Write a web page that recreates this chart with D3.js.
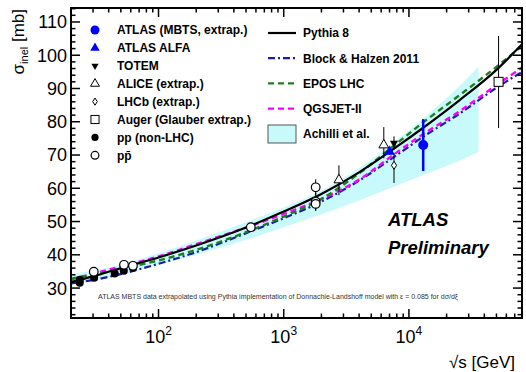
<!DOCTYPE html>
<html>
<head>
<meta charset="utf-8">
<script src="https://cdn.jsdelivr.net/npm/d3@7"></script>
<style>
  body { margin: 0; background: #fff; }
  svg { font-family: "Liberation Sans", Arial, sans-serif; }
</style>
</head>
<body>
<div id="chart"></div>
<script>
// Model curves, sigma_inel [mb] vs sqrt(s) [GeV]
const modelEnergy = [20, 30, 50, 100, 200, 500, 1000, 2000, 4000, 8000, 13000, 25000, 50000, 80000];
const pythia8     = [31.8, 33.5, 36.0, 39.2, 42.8, 48.2, 53.0, 58.3, 64.8, 72.5, 78.2, 86.3, 95.6, 103.3];
const blockHalzen = [31.4, 32.4, 34.2, 37.3, 40.8, 46.5, 51.0, 56.0, 62.3, 70.0, 75.5, 82.3, 90.2, 95.0];
const eposLHC     = [32.8, 34.0, 35.8, 38.3, 41.5, 46.8, 51.5, 56.8, 64.5, 73.5, 79.8, 87.8, 96.5, 102.8];
const qgsjet2     = [32.6, 34.3, 36.5, 39.5, 43.2, 48.2, 52.3, 56.8, 62.6, 70.8, 76.3, 83.0, 91.0, 96.3];

// Achilli et al. band
const achilliEnergy = [20, 50, 100, 200, 500, 1000, 2000, 4000, 8000, 13000, 25000, 36000];
const achilliHigh   = [34.2, 37.0, 40.5, 44.3, 49.8, 54.2, 59.3, 66.0, 74.5, 81.0, 90.5, 96.6];
const achilliLow    = [31.0, 34.0, 37.0, 40.0, 44.5, 48.3, 52.2, 56.3, 60.8, 64.0, 68.2, 71.0];

// Measurements
const ppEnergy = [23.5, 23.5, 30.6, 44.7, 52.8, 62.5];
const ppSigma  = [32.5, 31.6, 33.1, 34.4, 35.2, 36.1];
const ppErr    = [0.5, 0.8, 0.5, 0.5, 0.5, 0.5];

const ppbarEnergy = [30.4, 53, 62.5, 546, 1800, 1800, 1800];
const ppbarSigma  = [34.9, 37.0, 36.7, 48.3, 60.3, 56.0, 55.3];
const ppbarErr    = [0.6, 0.6, 0.6, 1.0, 2.4, 2.8, 2.0];

const aliceEnergy = [2760, 6300];
const aliceSigma  = [62.5, 73.0];
const aliceErrUp  = [4.4, 5.4];
const aliceErrDn  = [4.6, 4.0];

const lhcbEnergy = [7600];
const lhcbSigma  = [66.9];
const lhcbErrUp  = [3.7];
const lhcbErrDn  = [5.3];

const totemEnergy = [7600];
const totemSigma  = [73.6];
const totemErr    = [2.0];

const alfaEnergy = [7000];
const alfaSigma  = [71.0];
const alfaErr    = [0.9];

const mbtsEnergy = [13000];
const mbtsSigma  = [73.0];
const mbtsErr    = [7.8];

const augerEnergy = [52000];
const augerSigma  = [92.0];
const augerErrUp  = [13.8];
const augerErrDn  = [13.9];

const yMajorTicks = [30, 40, 50, 60, 70, 80, 90, 100, 110];
const xMajorTicks = [100, 1000, 10000];
const xTickExp = ['2', '3', '4'];

const markerLegend = [
  {label: 'ATLAS (MBTS, extrap.)', type: 'mbts'},
  {label: 'ATLAS ALFA', type: 'alfa'},
  {label: 'TOTEM', type: 'totem'},
  {label: 'ALICE (extrap.)', type: 'alice'},
  {label: 'LHCb (extrap.)', type: 'lhcb'},
  {label: 'Auger (Glauber extrap.)', type: 'auger'},
  {label: 'pp (non-LHC)', type: 'pp'},
  {label: 'pp\u0304', type: 'ppbar'}
];

const width = 526, height = 372;
const margin = {top: 8, right: 4, bottom: 54, left: 71};
const x0 = margin.left, x1 = width - margin.right;
const y0 = height - margin.bottom, y1 = margin.top;

const x = d3.scaleLog().domain([20, 80000]).range([x0, x1]);
const y = d3.scaleLinear().domain([21, 114.2]).range([y0, y1]);

const svg = d3.select('#chart').append('svg')
  .attr('width', width)
  .attr('height', height);

svg.append('clipPath').attr('id', 'plot-clip')
  .append('rect')
  .attr('x', x0).attr('y', y1)
  .attr('width', x1 - x0).attr('height', y0 - y1);

const plot = svg.append('g').attr('clip-path', 'url(#plot-clip)');

// Achilli band
const bandData = achilliEnergy.map((e, i) => ({e, lo: achilliLow[i], hi: achilliHigh[i]}));
plot.append('path')
  .datum(bandData)
  .attr('fill', '#c8fafc')
  .attr('d', d3.area()
    .x(d => x(d.e))
    .y0(d => y(d.lo))
    .y1(d => y(d.hi))
    .curve(d3.curveMonotoneX));

// Model curves
const line = d3.line()
  .x(d => x(d.e))
  .y(d => y(d.v))
  .curve(d3.curveMonotoneX);

const models = [
  {name: 'Pythia 8', values: pythia8, color: '#000', dash: null, w: 2.2},
  {name: 'Block & Halzen 2011', values: blockHalzen, color: '#1c1ca8', dash: '7,3,2,3', w: 2.2},
  {name: 'EPOS LHC', values: eposLHC, color: '#1e7d1e', dash: '6,4', w: 2.4},
  {name: 'QGSJET-II', values: qgsjet2, color: '#ff00ff', dash: '6,4', w: 2.4}
];

// draw order: dashed ones first, Pythia on top
[models[1], models[3], models[2], models[0]].forEach(m => {
  plot.append('path')
    .datum(modelEnergy.map((e, i) => ({e, v: m.values[i]})))
    .attr('fill', 'none')
    .attr('stroke', m.color)
    .attr('stroke-width', m.w)
    .attr('stroke-dasharray', m.dash)
    .attr('d', line);
});

// Markers
function drawMarker(g, type, cx, cy, scale) {
  const s = scale || 1;
  switch (type) {
    case 'mbts':
      g.append('circle').attr('cx', cx).attr('cy', cy).attr('r', 5 * s).attr('fill', '#0000ff');
      break;
    case 'alfa':
      g.append('path').attr('transform', `translate(${cx},${cy})`)
        .attr('d', d3.symbol(d3.symbolTriangle, 48 * s * s)()).attr('fill', '#0000ff');
      break;
    case 'totem':
      g.append('path').attr('transform', `translate(${cx},${cy}) rotate(180)`)
        .attr('d', d3.symbol(d3.symbolTriangle, 28 * s * s)()).attr('fill', '#000');
      break;
    case 'alice':
      g.append('path').attr('transform', `translate(${cx},${cy})`)
        .attr('d', d3.symbol(d3.symbolTriangle, 42 * s * s)())
        .attr('fill', '#fff').attr('stroke', '#000').attr('stroke-width', 1);
      break;
    case 'lhcb':
      g.append('path').attr('transform', `translate(${cx},${cy})`)
        .attr('d', `M0,${-4 * s}L${2.6 * s},0L0,${4 * s}L${-2.6 * s},0Z`)
        .attr('fill', '#fff').attr('stroke', '#000').attr('stroke-width', 1);
      break;
    case 'auger':
      g.append('rect').attr('x', cx - 4.5 * s).attr('y', cy - 4.5 * s)
        .attr('width', 9 * s).attr('height', 9 * s)
        .attr('fill', '#fff').attr('stroke', '#000').attr('stroke-width', 1);
      break;
    case 'pp':
      g.append('circle').attr('cx', cx).attr('cy', cy).attr('r', 4 * s).attr('fill', '#000');
      break;
    case 'ppbar':
      g.append('circle').attr('cx', cx).attr('cy', cy).attr('r', 4.3 * s)
        .attr('fill', '#fff').attr('stroke', '#000').attr('stroke-width', 1.2);
      break;
  }
}

function drawSeries(type, energies, sigmas, errUp, errDn, color, errWidth) {
  const g = svg.append('g');
  energies.forEach((e, i) => {
    const cx = x(e);
    g.append('line')
      .attr('x1', cx).attr('x2', cx)
      .attr('y1', y(sigmas[i] + errUp[i]))
      .attr('y2', y(sigmas[i] - errDn[i]))
      .attr('stroke', color)
      .attr('stroke-width', errWidth);
  });
  energies.forEach((e, i) => drawMarker(g, type, x(e), y(sigmas[i])));
}

drawSeries('pp', ppEnergy, ppSigma, ppErr, ppErr, '#000', 1);
drawSeries('ppbar', ppbarEnergy, ppbarSigma, ppbarErr, ppbarErr, '#000', 1);
drawSeries('alice', aliceEnergy, aliceSigma, aliceErrUp, aliceErrDn, '#000', 1);
drawSeries('lhcb', lhcbEnergy, lhcbSigma, lhcbErrUp, lhcbErrDn, '#000', 1);
drawSeries('totem', totemEnergy, totemSigma, totemErr, totemErr, '#000', 1);
drawSeries('alfa', alfaEnergy, alfaSigma, alfaErr, alfaErr, '#0000ff', 1.5);
drawSeries('mbts', mbtsEnergy, mbtsSigma, mbtsErr, mbtsErr, '#0000ff', 2.5);
drawSeries('auger', augerEnergy, augerSigma, augerErrUp, augerErrDn, '#000', 1);

// Frame and ticks (ROOT style, ticks inside on all four sides)
const axes = svg.append('g').attr('stroke', '#000');
axes.append('rect')
  .attr('x', x0).attr('y', y1)
  .attr('width', x1 - x0).attr('height', y0 - y1)
  .attr('fill', 'none').attr('stroke-width', 2);

const yMinor = d3.range(22, 114.2, 2);
yMinor.forEach(v => {
  const len = (v % 10 === 0) ? 9 : 4.5;
  axes.append('line').attr('x1', x0).attr('x2', x0 + len).attr('y1', y(v)).attr('y2', y(v)).attr('stroke-width', 1.5);
  axes.append('line').attr('x1', x1).attr('x2', x1 - len).attr('y1', y(v)).attr('y2', y(v)).attr('stroke-width', 1.5);
});

const xTicksAll = [];
[10, 100, 1000, 10000].forEach(dec => {
  d3.range(1, 10).forEach(k => {
    const v = dec * k;
    if (v >= 20 && v <= 80000) xTicksAll.push({v, major: k === 1});
  });
});
xTicksAll.forEach(t => {
  const len = t.major ? 9 : 4.5;
  axes.append('line').attr('x1', x(t.v)).attr('x2', x(t.v)).attr('y1', y0).attr('y2', y0 - len).attr('stroke-width', 1.5);
  axes.append('line').attr('x1', x(t.v)).attr('x2', x(t.v)).attr('y1', y1).attr('y2', y1 + len).attr('stroke-width', 1.5);
});

// Tick labels
svg.append('g').selectAll('text')
  .data(yMajorTicks)
  .join('text')
  .attr('x', x0 - 4)
  .attr('y', d => y(d))
  .attr('dy', '0.36em')
  .attr('text-anchor', 'end')
  .attr('font-size', 18)
  .text(d => d);

const xl = svg.append('g').selectAll('text')
  .data(xMajorTicks)
  .join('text')
  .attr('x', d => x(d))
  .attr('y', 343)
  .attr('text-anchor', 'middle')
  .attr('font-size', 18);
xl.append('tspan').text('10');
xl.append('tspan').attr('font-size', 12).attr('dy', -8).text((d, i) => xTickExp[i]);

// Axis titles
const yt = svg.append('text')
  .attr('transform', 'translate(24,9) rotate(-90)')
  .attr('text-anchor', 'end')
  .attr('font-size', 17);
yt.append('tspan').text('\u03c3');
yt.append('tspan').attr('font-size', 11).attr('dy', 4).text('inel');
yt.append('tspan').attr('dy', -4).text(' [mb]');

svg.append('text')
  .attr('x', 515).attr('y', 368)
  .attr('text-anchor', 'end')
  .attr('font-size', 17)
  .text('\u221as [GeV]');

// Legends
const legL = svg.append('g');
markerLegend.forEach((d, i) => {
  const ly = 30 + i * 17.9;
  drawMarker(legL, d.type, 95, ly, 0.9);
  legL.append('text')
    .attr('x', 117).attr('y', ly).attr('dy', '0.36em')
    .attr('font-size', 12).attr('font-weight', 'bold')
    .text(d.label);
});

const legR = svg.append('g');
models.forEach((m, i) => {
  const ly = 33 + i * 25.2;
  legR.append('line')
    .attr('x1', 268).attr('x2', 296).attr('y1', ly).attr('y2', ly)
    .attr('stroke', m.color).attr('stroke-width', m.w)
    .attr('stroke-dasharray', m.dash);
  legR.append('text')
    .attr('x', 303).attr('y', ly).attr('dy', '0.36em')
    .attr('font-size', 12).attr('font-weight', 'bold')
    .text(m.name);
});
legR.append('rect')
  .attr('x', 268).attr('y', 125).attr('width', 28).attr('height', 18)
  .attr('fill', '#c8fafc').attr('stroke', '#555').attr('stroke-width', 1);
legR.append('text')
  .attr('x', 303).attr('y', 134).attr('dy', '0.36em')
  .attr('font-size', 12).attr('font-weight', 'bold')
  .text('Achilli et al.');

// ATLAS label
svg.append('text').attr('x', 388).attr('y', 226)
  .attr('font-size', 18.5).attr('font-weight', 'bold').attr('font-style', 'italic')
  .text('ATLAS');
svg.append('text').attr('x', 388).attr('y', 254)
  .attr('font-size', 18.5).attr('font-weight', 'bold').attr('font-style', 'italic')
  .text('Preliminary');

svg.append('text').attr('x', 98).attr('y', 299)
  .attr('font-size', 7).attr('fill', '#333')
  .text('ATLAS MBTS data extrapolated using Pythia implementation of Donnachie-Landshoff model with \u03b5 = 0.085 for d\u03c3/d\u03be');
</script>
</body>
</html>
